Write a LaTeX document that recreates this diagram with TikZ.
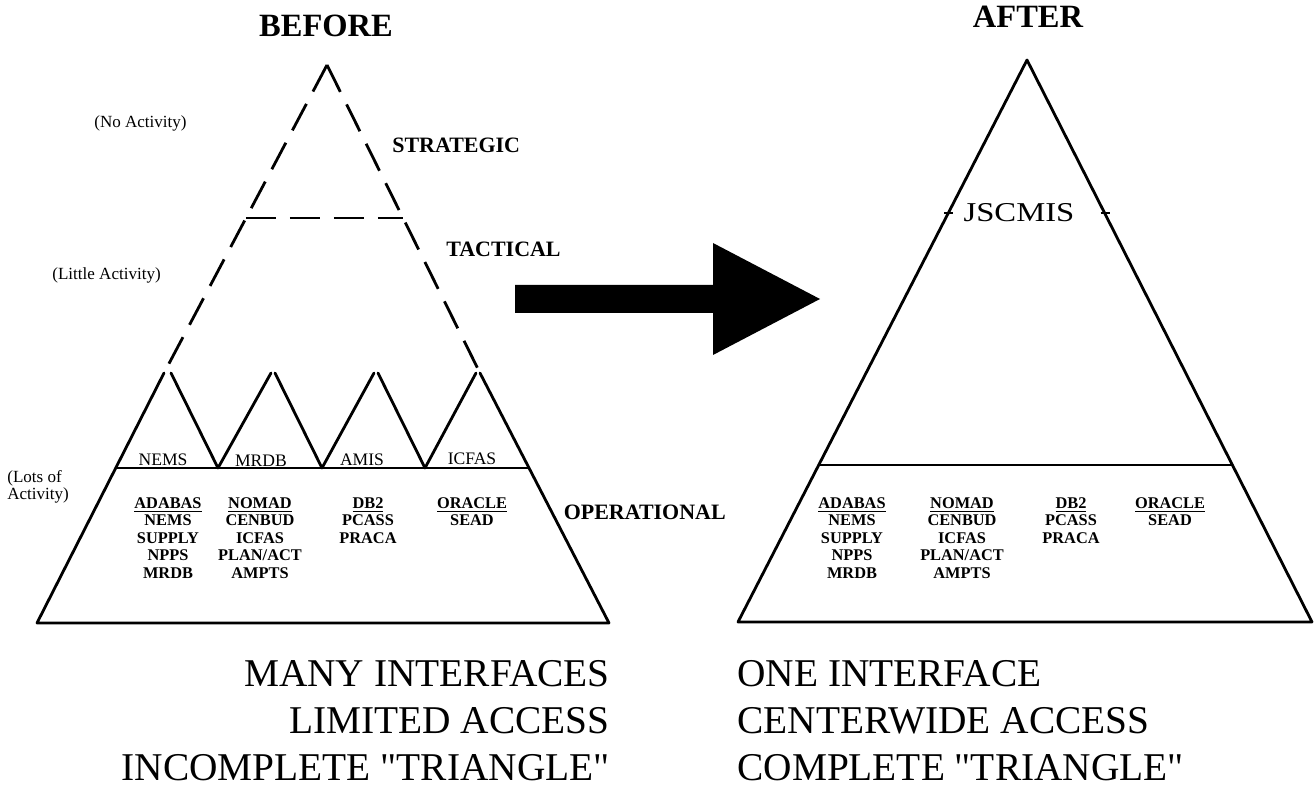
\documentclass[tikz,border=0pt]{standalone}
\usepackage{fontspec}
\usepackage{graphicx}
\setmainfont{Liberation Serif}
\usetikzlibrary{calc}
\newcommand\colstack[3]{\foreach \t [count=\k] in {#3} {\node[col] (#1\k) at ({#2},{491+17.5*\k}) {\t};}}
\newcommand\sq{\XeTeXglyph\XeTeXcharglyph"22\relax}
\begin{document}
\begin{tikzpicture}[x=0.02cm,y=-0.02cm,
  ln/.style={line width=1.6pt, line cap=round, line join=round},
  dsh/.style={line width=1.6pt, dash pattern=on 0.6cm off 0.28cm},
  ttl/.style={font=\fontsize{18.5}{20}\selectfont\bfseries, inner sep=0pt},
  lvl/.style={font=\fontsize{12.5}{14}\selectfont\bfseries, inner sep=0pt},
  act/.style={font=\fontsize{9.7}{11}\selectfont, inner sep=0pt, anchor=west},
  sml/.style={font=\fontsize{10}{12}\selectfont, inner sep=0pt},
  col/.style={font=\fontsize{9.3}{10}\selectfont\bfseries, inner sep=0pt, anchor=base},
  big/.style={font=\fontsize{22.4}{26}\selectfont, inner sep=0pt},
  tick/.style={line width=1.2pt}
]
\fill[white] (0,0) rectangle (1315,793);
\useasboundingbox (0,0) rectangle (1315,793);

% ---------- BEFORE ----------
\node[ttl] (before) at (326,26) {BEFORE};
\coordinate (LA) at (327,65);
\coordinate (LPl) at (164,373);
\coordinate (LPr) at (480,373);
\coordinate (LBl) at (37,623);
\coordinate (LBr) at (609,623);
\coordinate (LSl) at ($(LA)!0.497!(LPl)$);
\coordinate (LSr) at ($(LA)!0.497!(LPr)$);
\coordinate (LDl) at ($(LPl)!0.38!(LBl)$);
\coordinate (LDr) at ($(LPr)!0.38!(LBr)$);
\draw[dsh] (LA) -- (LPl);
\draw[dsh] (LA) -- (LPr);
\draw[dsh] (LSl) -- (LSr);
\draw[ln] (LPl) -- (LBl) -- (LBr) -- (LPr);
\draw[ln] (LDl) -- (LDr);
% zig-zag of small triangles
\coordinate (p1) at (171,373);
\coordinate (v1) at (218,468);
\coordinate (p2) at (271,373);
\coordinate (p2b) at (275,373);
\coordinate (v2) at (322,468);
\coordinate (p3) at (374,373);
\coordinate (p3b) at (378,373);
\coordinate (v3) at (425,468);
\coordinate (p4) at (476,373);
\draw[ln] (p1) -- (v1) -- (p2);
\draw[ln] (p2b) -- (v2) -- (p3);
\draw[ln] (p3b) -- (v3) -- (p4);

\node[sml] (tNEMS) at (163,460) {NEMS};
\node[sml] (tMRDB) at (261,461) {MRDB};
\node[sml] (tAMIS) at (362,460) {AMIS};
\node[sml] (tICFAS) at (472,459) {ICFAS};

\node[lvl, anchor=west] (strat) at (392,145) {STRATEGIC};
\node[lvl, anchor=west] (tact) at (446,249) {TACTICAL};
\node[lvl, anchor=east] (oper) at (726,512) {OPERATIONAL};

\node[act] (noact) at (94,123) {(No Activity)};
\node[act] (littleact) at (52,275) {(Little Activity)};
\node[act] (lotsa) at (7,478) {(Lots of};
\node[act] (lotsb) at (7,495) {Activity)};

\colstack{La}{168}{\underline{ADABAS},NEMS,SUPPLY,NPPS,MRDB}
\colstack{Lb}{260}{\underline{NOMAD},CENBUD,ICFAS,PLAN/ACT,AMPTS}
\colstack{Lc}{368}{\underline{DB2},PCASS,PRACA}
\colstack{Ld}{472}{\underline{ORACLE},SEAD}

% ---------- arrow ----------
\fill[black] (515,285) -- (713,285) -- (713,243) -- (820,299) -- (713,355) -- (713,313) -- (515,313) -- cycle;

% ---------- AFTER ----------
\node[ttl] (after) at (1028,17) {AFTER};
\coordinate (RA) at (1027,60);
\coordinate (RBl) at (738,622);
\coordinate (RBr) at (1312,622);
\coordinate (RDl) at ($(RA)!0.7206!(RBl)$);
\coordinate (RDr) at ($(RA)!0.7206!(RBr)$);
\coordinate (RTl) at ($(RA)!0.2722!(RBl)$);
\coordinate (RTr) at ($(RA)!0.2722!(RBr)$);
\draw[ln] (RA) -- (RBl) -- (RBr) -- cycle;
\draw[ln] (RDl) -- (RDr);
\draw[tick] ($(RTl)+(-4,0)$) -- ($(RTl)+(5,0)$);
\draw[tick] ($(RTr)+(-4,0)$) -- ($(RTr)+(5,0)$);
\node[font=\fontsize{15.5}{17}\selectfont, inner sep=0pt] (js) at (1019,213) {\scalebox{1.2}[1]{JSCMIS}};

\colstack{Ra}{852}{\underline{ADABAS},NEMS,SUPPLY,NPPS,MRDB}
\colstack{Rb}{962}{\underline{NOMAD},CENBUD,ICFAS,PLAN/ACT,AMPTS}
\colstack{Rc}{1071}{\underline{DB2},PCASS,PRACA}
\colstack{Rd}{1170}{\underline{ORACLE},SEAD}

% ---------- bottom captions ----------
\node[big, anchor=base east] (m1) at (610,686) {MANY INTERFACES};
\node[big, anchor=base east] (m2) at (610,733) {LIMITED ACCESS};
\node[big, anchor=base east] (m3) at (610,780) {INCOMPLETE \sq TRIANGLE\sq};
\node[big, anchor=base west] (n1) at (737,686) {ONE INTERFACE};
\node[big, anchor=base west] (n2) at (737,733) {CENTERWIDE ACCESS};
\node[big, anchor=base west] (n3) at (737,780) {COMPLETE \sq TRIANGLE\sq};
\end{tikzpicture}
\end{document}
